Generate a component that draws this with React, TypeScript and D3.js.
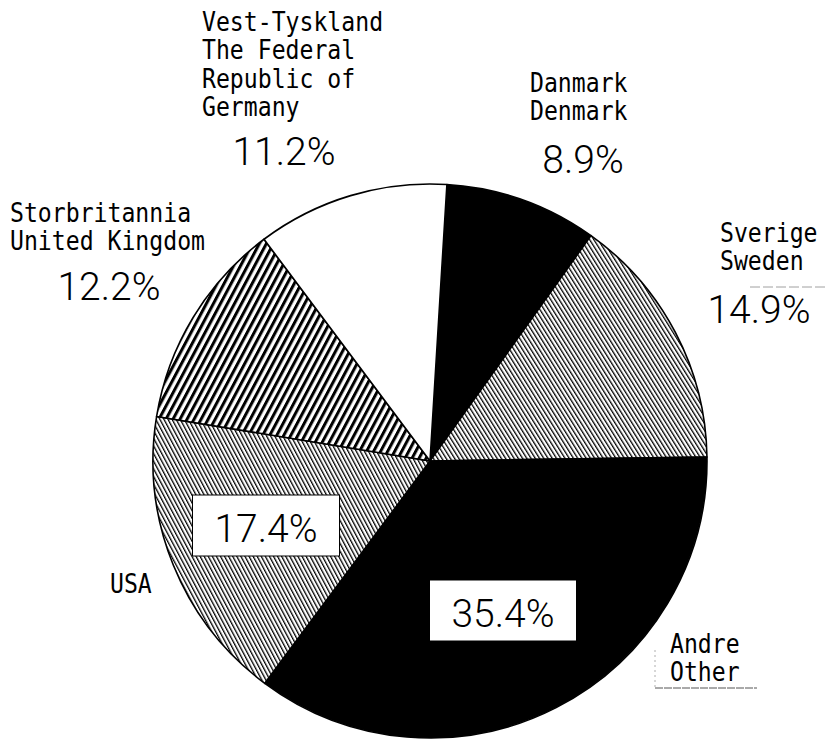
import React, { useEffect, useRef } from "react";
import * as d3 from "d3";

// clockwise from 12 o'clock
const countries = ["Danmark", "Sverige", "Andre", "USA", "Storbritannia", "Vest-Tyskland"];
const shares = [8.9, 14.9, 35.4, 17.4, 12.2, 11.2];
const labelLines = [
  ["Danmark", "Denmark"],
  ["Sverige", "Sweden"],
  ["Andre", "Other"],
  ["USA"],
  ["Storbritannia", "United Kingdom"],
  ["Vest-Tyskland", "The Federal", "Republic of", "Germany"],
];
const fills = ["black", "url(#hatchFine)", "black", "url(#hatchFine2)", "url(#hatchBold)", "white"];

// where the names and percentages sit (left x, first baseline)
const nameAt: [number, number][] = [[530, 92], [720, 242], [670, 653], [110, 593], [10, 222], [202, 31]];
const pctAt: [number, number][] = [[583, 173], [759, 323], [503, 627], [266, 542], [109, 300], [284, 165]];
const boxed = [false, false, true, true, false, false];

const W = 826;
const H = 740;
const cx = 430;
const cy = 461;
const R = 277;
const startDeg = 3.5;
const lineGap = 28.5;

export default function App() {
  const svgRef = useRef<SVGSVGElement>(null);

  useEffect(() => {
    const svg = d3.select(svgRef.current);
    svg.selectAll("*").remove();

    const defs = svg.append("defs");
    const hatch = (id: string, size: number, lw: number, rot: number) => {
      const p = defs.append("pattern")
        .attr("id", id)
        .attr("patternUnits", "userSpaceOnUse")
        .attr("width", size)
        .attr("height", size)
        .attr("patternTransform", `rotate(${rot})`);
      p.append("rect").attr("width", size).attr("height", size).attr("fill", "white");
      p.append("rect").attr("x", 0).attr("width", lw).attr("height", size).attr("fill", "black");
    };
    hatch("hatchFine", 3.6, 1.3, -32);
    hatch("hatchFine2", 3.6, 1.3, -28);
    hatch("hatchBold", 6.2, 3, 28);

    const pie = d3.pie<number>()
      .sort(null)
      .value(d => d)
      .startAngle((startDeg * Math.PI) / 180)
      .endAngle((startDeg * Math.PI) / 180 + 2 * Math.PI);
    const arc = d3.arc<d3.PieArcDatum<number>>().innerRadius(0).outerRadius(R);

    const g = svg.append("g").attr("transform", `translate(${cx},${cy})`);
    g.selectAll("path.slice")
      .data(pie(shares))
      .enter()
      .append("path")
      .attr("class", "slice")
      .attr("d", arc)
      .attr("fill", (_, i) => fills[i])
      .attr("stroke", "black")
      .attr("stroke-width", 1.6)
      .attr("stroke-linejoin", "round");

    // names, monospace like the typewriter labels
    labelLines.forEach((lines, i) => {
      const [x, y] = nameAt[i];
      const t = svg.append("g")
        .attr("transform", `translate(${x},${y}) scale(0.89,1)`);
      lines.forEach((ln, k) => {
        t.append("text")
          .attr("x", 0)
          .attr("y", k * lineGap)
          .attr("font-family", "DejaVu Sans Mono")
          .attr("font-size", 26)
          .attr("fill", "black")
          .text(ln);
      });
    });

    // underline under Andre/Other and the faint rule near Sweden
    svg.append("line")
      .attr("x1", 655).attr("x2", 757).attr("y1", 688).attr("y2", 688)
      .attr("stroke", "#555").attr("stroke-width", 1).attr("stroke-dasharray", "8 1");
    svg.append("line")
      .attr("x1", 655).attr("x2", 655).attr("y1", 650).attr("y2", 688)
      .attr("stroke", "#999").attr("stroke-width", 0.8).attr("stroke-dasharray", "2 3");
    svg.append("line")
      .attr("x1", 750).attr("x2", 826).attr("y1", 287).attr("y2", 287)
      .attr("stroke", "#888").attr("stroke-width", 0.8).attr("stroke-dasharray", "10 3");

    // percentages, thin plotter-like figures
    shares.forEach((v, i) => {
      const [x, y] = pctAt[i];
      if (boxed[i]) {
        svg.append("rect")
          .attr("x", x - 73.5)
          .attr("y", y - 47)
          .attr("width", 147)
          .attr("height", 61)
          .attr("fill", "white")
          .attr("stroke", "black")
          .attr("stroke-width", 1);
      }
      svg.append("text")
        .attr("x", x)
        .attr("y", y)
        .attr("text-anchor", "middle")
        .attr("font-family", "Roboto")
        .attr("font-weight", 300)
        .attr("font-size", 39)
        .attr("fill", "black")
        .text(d3.format(".1f")(v) + "%");
    });
  }, []);

  return (
    <svg
      ref={svgRef}
      width={W}
      height={H}
      style={{ position: "absolute", left: 0, top: 0, background: "white" }}
    />
  );
}
